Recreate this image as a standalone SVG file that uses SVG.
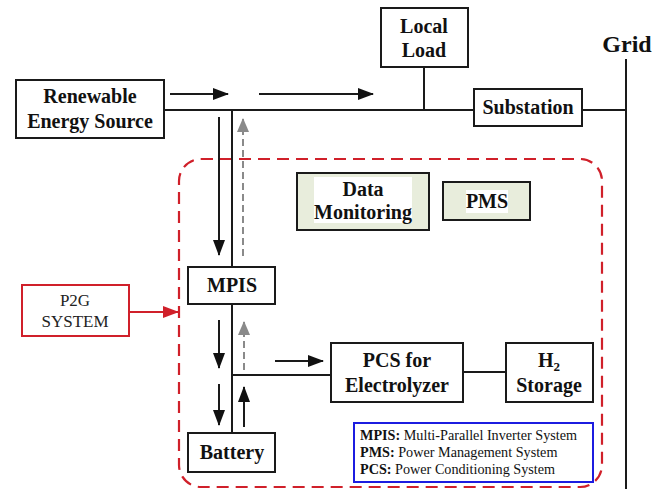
<svg xmlns="http://www.w3.org/2000/svg" width="667" height="489" viewBox="0 0 667 489">
<style>
.box{fill:#fff;stroke:#1a1a1a;stroke-width:2}
.gbox{fill:#e8eddc;stroke:#1a1a1a;stroke-width:2}
.t{font-family:'Liberation Serif','DejaVu Serif',serif;font-weight:bold;font-size:20px;fill:#111;text-anchor:middle}
.ln{stroke:#1a1a1a;stroke-width:2;fill:none}
.ar{stroke:#1a1a1a;stroke-width:2;fill:none;marker-end:url(#ah)}
.gar{stroke:#8a8a8a;stroke-width:2;fill:none;stroke-dasharray:7 4;marker-end:url(#gh)}
.lg{font-family:'Liberation Serif','DejaVu Serif',serif;font-size:14.2px;fill:#111}
.pg{font-family:'Liberation Serif','DejaVu Serif',serif;font-size:17px;fill:#222;text-anchor:middle}
</style>
<defs>
<marker id="ah" markerWidth="16" markerHeight="12" refX="15" refY="6" orient="auto" markerUnits="userSpaceOnUse"><path d="M0,0 L16,6 L0,12 Z" fill="#111"/></marker>
<marker id="gh" markerWidth="14" markerHeight="12" refX="13" refY="6" orient="auto" markerUnits="userSpaceOnUse"><path d="M0,0 L14,6 L0,12 Z" fill="#8a8a8a"/></marker>
<marker id="rh" markerWidth="16" markerHeight="12" refX="15" refY="6" orient="auto" markerUnits="userSpaceOnUse"><path d="M0,0 L16,6 L0,12 Z" fill="#d0202a"/></marker>
</defs>
<rect width="667" height="489" fill="#fff"/>

<g id="p2g-boundary">
<rect x="179" y="159" width="423" height="328" rx="22" ry="22" fill="none" stroke="#d0202a" stroke-width="2.2" stroke-dasharray="12 7"/>
</g>

<g id="connectors">
<line class="ln" x1="164" y1="110" x2="474" y2="110"/>
<line class="ln" x1="582" y1="110" x2="626" y2="110"/>
<line class="ln" x1="626" y1="59" x2="626" y2="489"/>
<line class="ln" x1="424" y1="67" x2="424" y2="110"/>
<line class="ln" x1="232" y1="110" x2="232" y2="267"/>
<line class="ln" x1="232" y1="304" x2="232" y2="433"/>
<line class="ln" x1="232" y1="375" x2="331" y2="375"/>
<line class="ln" x1="463" y1="372" x2="506" y2="372"/>
<line class="ar" x1="170" y1="94" x2="228" y2="94"/>
<line class="ar" x1="259" y1="94" x2="373" y2="94"/>
<line class="ar" x1="219" y1="117" x2="219" y2="255"/>
<line class="gar" x1="243" y1="256" x2="243" y2="119"/>
<line class="ar" x1="219" y1="320" x2="219" y2="368"/>
<line class="ar" x1="219" y1="384" x2="219" y2="425"/>
<line class="gar" x1="244" y1="370" x2="244" y2="322"/>
<line class="ar" x1="244" y1="427" x2="244" y2="387"/>
<line class="ar" x1="275" y1="361" x2="323" y2="361"/>
<line x1="129" y1="312" x2="178" y2="312" stroke="#d0202a" stroke-width="2" marker-end="url(#rh)"/>
</g>

<g id="renewable">
<rect class="box" x="16" y="80" width="148" height="58"/>
<text class="t" x="90" y="103">Renewable</text>
<text class="t" x="90" y="128">Energy Source</text>
</g>

<g id="local-load">
<rect class="box" x="381" y="8" width="87" height="59"/>
<text class="t" x="424" y="33">Local</text>
<text class="t" x="424" y="57">Load</text>
</g>

<g id="substation">
<rect class="box" x="474" y="89" width="108" height="37"/>
<text class="t" x="528" y="114">Substation</text>
</g>

<g id="grid">
<text class="t" x="627" y="52" style="font-size:24px">Grid</text>
</g>

<g id="data-monitoring">
<rect class="gbox" x="297" y="173" width="132" height="57"/>
<rect x="314" y="177" width="98" height="46" fill="#fff"/>
<text class="t" x="363" y="196">Data</text>
<text class="t" x="363" y="219">Monitoring</text>
</g>

<g id="pms">
<rect class="gbox" x="443" y="182" width="87" height="38"/>
<rect x="466" y="190" width="42" height="23" fill="#fff"/>
<text class="t" x="487" y="208">PMS</text>
</g>

<g id="mpis">
<rect class="box" x="188" y="267" width="87" height="37"/>
<text class="t" x="232" y="292">MPIS</text>
</g>

<g id="p2g">
<rect x="22" y="285" width="107" height="51" fill="#fff" stroke="#d0202a" stroke-width="2"/>
<text class="pg" x="75" y="306">P2G</text>
<text class="pg" x="75" y="327">SYSTEM</text>
</g>

<g id="battery">
<rect class="box" x="188" y="433" width="87" height="39"/>
<text class="t" x="232" y="459">Battery</text>
</g>

<g id="pcs">
<rect class="box" x="331" y="343" width="132" height="59"/>
<text class="t" x="397" y="367">PCS for</text>
<text class="t" x="397" y="392">Electrolyzer</text>
</g>

<g id="h2">
<rect class="box" x="506" y="343" width="87" height="59"/>
<text class="t" x="549" y="367">H<tspan font-size="13" dy="4">2</tspan></text>
<text class="t" x="549" y="392">Storage</text>
</g>

<g id="legend">
<rect x="354" y="423" width="239" height="59" fill="#fff" stroke="#1c1ce0" stroke-width="2"/>
<text class="lg" x="360" y="440"><tspan font-weight="bold">MPIS:</tspan> Multi-Parallel Inverter System</text>
<text class="lg" x="360" y="457"><tspan font-weight="bold">PMS:</tspan> Power Management System</text>
<text class="lg" x="360" y="474"><tspan font-weight="bold">PCS:</tspan> Power Conditioning System</text>
</g>
</svg>
